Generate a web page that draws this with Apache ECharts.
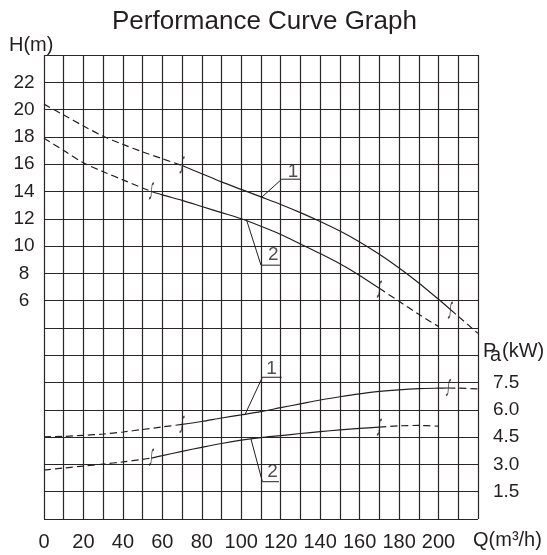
<!DOCTYPE html>
<html>
<head>
<meta charset="utf-8">
<script src="https://cdn.jsdelivr.net/npm/echarts@6/dist/echarts.min.js"></script>
<style>
html,body{margin:0;padding:0;background:#fff;}
#c{width:547px;height:555px;}
</style>
</head>
<body>
<div id="c"></div>
<script>
// ---- data ----
const qH1 = [0,10,20,30,40,50,60,70,80,90,100,110,120,130,140,150,160,170,180,190,200,206,210,220];
const h1  = [20.4,19.6,18.8,18.05,17.45,16.9,16.4,15.9,15.3,14.7,14.15,13.6,13.05,12.45,11.8,11.1,10.3,9.4,8.4,7.3,6.1,5.35,4.85,3.6];
const h1Solid = [70, 206];

const qH2 = [0,10,20,30,40,50,54.5,60,70,80,90,100,110,120,130,140,150,160,170,180,190,200];
const h2  = [17.9,17.0,16.1,15.45,14.85,14.25,14.0,13.75,13.35,12.9,12.45,12.0,11.45,10.85,10.15,9.45,8.7,7.85,6.9,5.95,5.0,4.1];
const h2Solid = [54.5, 170];

const qP1 = [0,10,20,30,40,50,60,70,80,90,100,110,120,130,140,150,160,170,180,190,200,205,210,220];
const p1  = [4.52,4.54,4.6,4.67,4.78,4.92,5.06,5.2,5.36,5.55,5.72,5.9,6.12,6.33,6.54,6.72,6.88,7.01,7.1,7.16,7.19,7.2,7.19,7.15];
const p1Solid = [70, 205];

const qP2 = [0,10,20,30,40,50,54.5,60,70,80,90,100,110,120,130,140,150,160,170,180,190,200];
const p2  = [2.69,2.8,2.91,3.02,3.14,3.28,3.35,3.48,3.72,3.94,4.15,4.33,4.47,4.58,4.7,4.8,4.9,4.98,5.05,5.12,5.14,5.1];
const p2Solid = [54.5, 170];

const breakH = [[70,15.95],[54.5,14.05],[206,5.3],[170,6.85]];
const breakP = [[70,5.2],[54.5,3.4],[205,7.22],[170,5.05]];

const leadH1 = [[110.4,13.58],[120.5,14.9],[129.8,14.9]];
const leadH2 = [[102.7,11.9],[110,8.6],[119.6,8.6]];
const leadP1 = [[101.9,5.74],[110.7,7.79],[120.5,7.79]];
const leadP2 = [[104.9,4.4],[110.7,2.05],[119.1,2.05]];
const tagH = [[126.2,15.45,'1'],[116.2,9.35,'2']];
const tagP = [[115.4,8.28,'1'],[115.9,2.57,'2']];

const xTicks = [0,20,40,60,80,100,120,140,160,180,200];
const hTicks = [6,8,10,12,14,16,18,20,22];
const pTicks = [1.5,3.0,4.5,6.0,7.5];

// ---- helpers ----
const INK = '#231f20';
const FONT = 'Liberation Sans, Arial, Helvetica, sans-serif';
function pairs(q, v, lo, hi){
  const out = [];
  for (let i=0;i<q.length;i++){ if (q[i]>=lo && q[i]<=hi) out.push([q[i], v[i]]); }
  return out;
}
function curve(q, v, solid, yIdx){
  const ls = {color: INK, width: 1.2};
  const base = {type:'line', yAxisIndex:yIdx, showSymbol:false, smooth:0.3, silent:true};
  return [
    Object.assign({}, base, {data:pairs(q,v,-1,solid[0]), lineStyle:Object.assign({}, ls, {type:[7,4]})}),
    Object.assign({}, base, {data:pairs(q,v,solid[0],solid[1]), lineStyle:ls}),
    Object.assign({}, base, {data:pairs(q,v,solid[1],1000), lineStyle:Object.assign({}, ls, {type:[7,4]})})
  ];
}
function leader(d, yIdx){
  return {type:'line', yAxisIndex:yIdx, data:d, showSymbol:false, lineStyle:{color:INK, width:1}, silent:true};
}
const BREAK_SYMBOL = 'path://M6,0.6 Q4,0 3.5,3 L2.5,13 Q2,16 0,15.4';
function breaks(d, yIdx){
  return {type:'scatter', yAxisIndex:yIdx, data:d, symbol:BREAK_SYMBOL, symbolSize:[5,15], symbolKeepAspect:false,
    silent:true, z:5, itemStyle:{color:'transparent', borderColor:INK, borderWidth:1.3}};
}
function tags(d, yIdx){
  return {type:'scatter', yAxisIndex:yIdx, data:d.map(t=>({value:[t[0],t[1]], name:t[2]})), symbolSize:0, silent:true, z:5,
    label:{show:true, position:'inside', formatter:'{b}', fontSize:19, color:INK, fontFamily:FONT}};
}

const chart = echarts.init(document.getElementById('c'), null, {renderer:'canvas'});
const txt = {color:INK, fontFamily:FONT, fontWeight:'normal'};
function ttl(text, left, top, size){
  return {text:text, left:left, top:top, padding:0, textStyle:Object.assign({}, txt, {fontSize:size})};
}
chart.setOption({
  animation:false,
  backgroundColor:'#fff',
  title:[
    ttl('Performance Curve Graph', 112, 9, 26),
    ttl('H(m)', 9, 35, 20),
    ttl('P', 483, 341, 20),
    ttl('a', 490, 345, 20),
    ttl('(kW)', 502, 341, 20),
    ttl('Q(m\u00B3/h)', 473, 530, 20)
  ],
  grid:{left:44, right:69, top:55, bottom:36, containLabel:false},
  xAxis:{type:'value', min:0, max:220, interval:10,
    axisLine:{show:false}, axisTick:{show:false},
    splitLine:{show:true, lineStyle:{color:'#2a2526', width:1.2}},
    axisLabel:{margin:13, fontSize:20, color:INK, fontFamily:FONT,
      formatter:v=> xTicks.indexOf(v)>=0 ? String(v) : ''}},
  yAxis:[
    {type:'value', min:-10, max:24, interval:2, position:'left',
      axisLine:{show:false}, axisTick:{show:false},
      splitLine:{show:true, lineStyle:{color:'#2a2526', width:1.2}},
      axisLabel:{margin:20, align:'center', fontSize:19, color:INK, fontFamily:FONT,
        formatter:v=> hTicks.indexOf(v)>=0 ? String(v) : ''}},
    {type:'value', min:0, max:25.5, interval:1.5, position:'right',
      axisLine:{show:false}, axisTick:{show:false}, splitLine:{show:false},
      axisLabel:{margin:15, align:'left', fontSize:19, color:INK, fontFamily:FONT,
        formatter:v=> pTicks.some(t=>Math.abs(t-v)<1e-6) ? v.toFixed(1) : ''}}
  ],
  series:[].concat(
    curve(qH1,h1,h1Solid,0), curve(qH2,h2,h2Solid,0),
    curve(qP1,p1,p1Solid,1), curve(qP2,p2,p2Solid,1),
    [leader(leadH1,0), leader(leadH2,0), leader(leadP1,1), leader(leadP2,1),
     breaks(breakH,0), breaks(breakP,1), tags(tagH,0), tags(tagP,1)]
  )
});
</script>
</body>
</html>
